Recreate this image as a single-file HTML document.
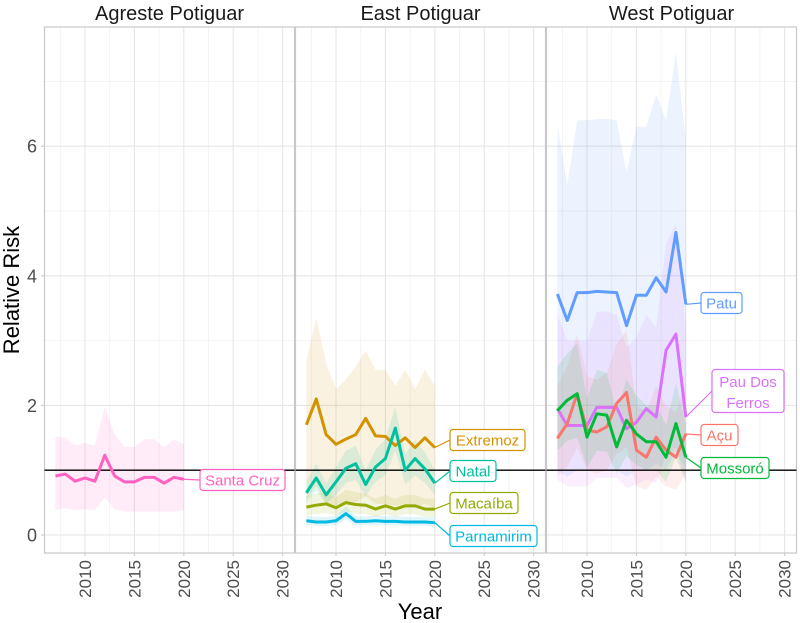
<!DOCTYPE html>
<html><head><meta charset="utf-8"><style>
html,body{margin:0;padding:0;background:#fff;}
svg{display:block;font-family:"Liberation Sans",sans-serif;}
</style></head><body>
<svg id="chart" width="800" height="623" viewBox="0 0 800 623" xmlns="http://www.w3.org/2000/svg"></svg>
<script>
const years=[2007,2008,2009,2010,2011,2012,2013,2014,2015,2016,2017,2018,2019,2020];
const panelTitles=["Agreste Potiguar","East Potiguar","West Potiguar"];
const xTicks=[2010,2015,2020,2025,2030];
const yTicks=[0,2,4,6];
const santaCruz=[0.91,0.94,0.83,0.88,0.83,1.23,0.91,0.82,0.82,0.89,0.89,0.80,0.89,0.86];
const santaCruzLo=[0.38,0.42,0.38,0.40,0.38,0.58,0.40,0.36,0.36,0.36,0.36,0.36,0.36,0.38];
const santaCruzHi=[1.52,1.50,1.38,1.42,1.38,1.98,1.55,1.36,1.36,1.48,1.48,1.35,1.48,1.40];
const extremoz=[1.70,2.10,1.55,1.40,1.48,1.55,1.80,1.53,1.52,1.38,1.50,1.35,1.50,1.35];
const extremozLo=[0.55,0.75,0.50,0.45,0.48,0.50,0.60,0.48,0.48,0.45,0.48,0.42,0.48,0.42];
const extremozHi=[2.70,3.35,2.65,2.25,2.40,2.60,2.85,2.55,2.55,2.30,2.55,2.25,2.55,2.30];
const natal=[0.65,0.88,0.62,0.82,1.03,1.10,0.78,1.05,1.18,1.65,1.00,1.18,1.02,0.80];
const natalLo=[0.50,0.68,0.48,0.62,0.80,0.85,0.60,0.82,0.92,1.30,0.78,0.92,0.80,0.62];
const natalHi=[0.82,1.10,0.80,1.05,1.30,1.38,1.00,1.32,1.48,1.98,1.25,1.45,1.28,1.00];
const macaiba=[0.43,0.46,0.48,0.42,0.50,0.47,0.46,0.40,0.45,0.40,0.45,0.45,0.40,0.40];
const macaibaLo=[0.30,0.32,0.34,0.30,0.36,0.33,0.32,0.28,0.32,0.28,0.32,0.32,0.28,0.28];
const macaibaHi=[0.60,0.64,0.66,0.58,0.70,0.66,0.64,0.56,0.62,0.56,0.62,0.62,0.56,0.56];
const parnamirim=[0.22,0.20,0.20,0.22,0.33,0.21,0.21,0.22,0.21,0.21,0.20,0.20,0.20,0.19];
const parnamirimLo=[0.15,0.14,0.14,0.15,0.24,0.15,0.15,0.15,0.15,0.15,0.14,0.14,0.14,0.13];
const parnamirimHi=[0.30,0.28,0.28,0.30,0.44,0.29,0.29,0.30,0.29,0.29,0.28,0.28,0.28,0.27];
const patu=[3.72,3.31,3.74,3.74,3.76,3.75,3.74,3.23,3.70,3.70,3.97,3.75,4.67,3.56];
const patuLo=[1.0,0.9,1.0,1.0,1.0,1.0,1.0,0.9,1.0,1.0,1.1,1.0,1.3,1.0];
const patuHi=[6.35,5.40,6.40,6.40,6.42,6.42,6.40,5.60,6.30,6.30,6.80,6.40,7.45,6.10];
const pauDosFerros=[1.95,1.69,1.69,1.69,1.97,1.97,1.97,1.64,1.74,1.95,1.82,2.85,3.10,1.82];
const pauDosFerrosLo=[0.85,0.75,0.75,0.75,0.88,0.88,0.88,0.72,0.78,0.86,0.80,1.25,1.35,0.80];
const pauDosFerrosHi=[3.40,3.00,3.00,3.00,3.45,3.45,3.40,2.90,3.05,3.40,3.20,4.50,4.80,3.20];
const acu=[1.49,1.72,2.18,1.62,1.59,1.67,2.03,2.20,1.31,1.20,1.51,1.31,1.20,1.56];
const acuLo=[0.90,1.05,1.35,1.00,0.95,1.00,1.25,1.35,0.75,0.70,0.90,0.75,0.70,0.95];
const acuHi=[2.30,2.60,3.10,2.45,2.40,2.50,2.95,3.15,2.00,1.90,2.30,2.00,1.90,2.35];
const mossoro=[1.92,2.08,2.18,1.51,1.87,1.85,1.36,1.77,1.56,1.44,1.44,1.20,1.72,1.20];
const mossoroLo=[1.30,1.45,1.50,1.05,1.30,1.28,0.95,1.22,1.08,1.00,1.00,0.82,1.20,0.82];
const mossoroHi=[2.60,2.80,2.95,2.10,2.55,2.50,1.90,2.40,2.15,2.00,2.00,1.70,2.35,1.70];

const series=[
 {panel:0,name:"Santa Cruz",v:santaCruz,lo:santaCruzLo,hi:santaCruzHi,c:"#FF61C3",lx:200,ly:480,w:85},
 {panel:1,name:"Extremoz",v:extremoz,lo:extremozLo,hi:extremozHi,c:"#D39200",lx:450,ly:440,w:75},
 {panel:1,name:"Natal",v:natal,lo:natalLo,hi:natalHi,c:"#00C19F",lx:450,ly:471,w:46},
 {panel:1,name:"Macaíba",v:macaiba,lo:macaibaLo,hi:macaibaHi,c:"#93AA00",lx:450,ly:503,w:68},
 {panel:1,name:"Parnamirim",v:parnamirim,lo:parnamirimLo,hi:parnamirimHi,c:"#00B9E3",lx:450,ly:536,w:87},
 {panel:2,name:"Patu",v:patu,lo:patuLo,hi:patuHi,c:"#619CFF",lx:701,ly:303,w:41},
 {panel:2,name:"Pau Dos Ferros",v:pauDosFerros,lo:pauDosFerrosLo,hi:pauDosFerrosHi,c:"#DB72FB",lx:712,ly:391,two:true,w:72},
 {panel:2,name:"Açu",v:acu,lo:acuLo,hi:acuHi,c:"#F8766D",lx:701,ly:435,w:37},
 {panel:2,name:"Mossoró",v:mossoro,lo:mossoroLo,hi:mossoroHi,c:"#00BA38",lx:701,ly:468,w:68}
];

const NS="http://www.w3.org/2000/svg";
const svg=document.getElementById('chart');
const panelX=[44.5,295.5,546.5], panelW=250, plotTop=27, plotBottom=553;
const xMin=2005.9, xMax=2031.2;
function X(p,yr){return panelX[p]+(yr-xMin)/(xMax-xMin)*panelW;}
function Y(v){return 535-v*64.8;}
function el(tag,attrs,parent){const e=document.createElementNS(NS,tag);for(const k in attrs)e.setAttribute(k,attrs[k]);(parent||svg).appendChild(e);return e;}

for(let p=0;p<3;p++){
  const g=el('g',{});
  
  
  for(let m=1;m<=7;m+=2){el('line',{x1:panelX[p],x2:panelX[p]+panelW,y1:Y(m),y2:Y(m),stroke:'#f0f0f0','stroke-width':0.8},g);}
  for(let yr=2007.5;yr<2031;yr+=5){el('line',{x1:X(p,yr),x2:X(p,yr),y1:plotTop,y2:plotBottom,stroke:'#f0f0f0','stroke-width':0.8},g);}
  yTicks.forEach(t=>{el('line',{x1:panelX[p],x2:panelX[p]+panelW,y1:Y(t),y2:Y(t),stroke:'#e6e6e6','stroke-width':1.1},g);});
  xTicks.forEach(t=>{el('line',{x1:X(p,t),x2:X(p,t),y1:plotTop,y2:plotBottom,stroke:'#e6e6e6','stroke-width':1.1},g);});
  el('rect',{x:panelX[p],y:plotTop,width:panelW,height:plotBottom-plotTop,fill:'none',stroke:'#c8c8c8','stroke-width':1.2},g);
  xTicks.forEach(t=>{
    el('line',{x1:X(p,t),x2:X(p,t),y1:plotBottom,y2:plotBottom+3,stroke:'#c8c8c8'},g);
    const tx=el('text',{x:0,y:0,transform:`translate(${X(p,t)+6},${plotBottom+7}) rotate(-90)`,'text-anchor':'end','font-size':17,fill:'#4d4d4d'},g);
    tx.textContent=t;
    
    
  });
  const st=el('text',{x:panelX[p]+panelW/2,y:20,'text-anchor':'middle','font-size':20,fill:'#1a1a1a'},g);
  st.textContent=panelTitles[p];
  
  
}
yTicks.forEach(t=>{
  el('line',{x1:41,x2:44.5,y1:Y(t),y2:Y(t),stroke:'#c8c8c8'});
  const tx=el('text',{x:37,y:Y(t)+6.5,'text-anchor':'end','font-size':18,fill:'#4d4d4d'});
  tx.textContent=t;
  
  
});
series.forEach(s=>{
  let d='';
  years.forEach((yr,i)=>{d+=(i?'L':'M')+X(s.panel,yr)+','+Y(s.hi[i]);});
  for(let i=years.length-1;i>=0;i--)d+='L'+X(s.panel,years[i])+','+Y(s.lo[i]);
  const r=el('path',{d:d+'Z',fill:s.c,'fill-opacity':0.12,stroke:'none'});
  
  
});
for(let p=0;p<3;p++){
  const l=el('line',{x1:panelX[p],x2:panelX[p]+panelW,y1:Y(1),y2:Y(1),stroke:'#000','stroke-width':1.3});
  
  
}
series.forEach(s=>{
  const pts=years.map((yr,i)=>X(s.panel,yr)+','+Y(s.v[i])).join(' ');
  const pl=el('polyline',{points:pts,fill:'none',stroke:s.c,'stroke-width':3,'stroke-linejoin':'round'});
  
  
  const lastX=X(s.panel,2020), lastY=Y(s.v[s.v.length-1]);
  el('line',{x1:lastX,y1:lastY,x2:s.lx,y2:s.ly,stroke:s.c,'stroke-width':1.2});
  const g=el('g',{});
  
  
  const fs=15;
  const w=s.w, h=s.two?43:21;
  el('rect',{x:s.lx,y:s.ly-h/2,width:w,height:h,rx:3,fill:'#fff',stroke:s.c,'stroke-width':1.2},g);
  if(s.two){
    const t1=el('text',{x:s.lx+w/2,y:s.ly-4,'text-anchor':'middle','font-size':fs,fill:s.c},g);t1.textContent='Pau Dos';
    const t2=el('text',{x:s.lx+w/2,y:s.ly+17,'text-anchor':'middle','font-size':fs,fill:s.c},g);t2.textContent='Ferros';
  }else{
    const t=el('text',{x:s.lx+w/2,y:s.ly+5.5,'text-anchor':'middle','font-size':fs,fill:s.c},g);t.textContent=s.name;
  }
});
const xt=el('text',{x:420,y:619,'text-anchor':'middle','font-size':22,fill:'#000'});
xt.textContent='Year';


const yt=el('text',{x:0,y:0,transform:'translate(19,290) rotate(-90)','text-anchor':'middle','font-size':22,fill:'#000'});
yt.textContent='Relative Risk';


</script>
</body></html>
